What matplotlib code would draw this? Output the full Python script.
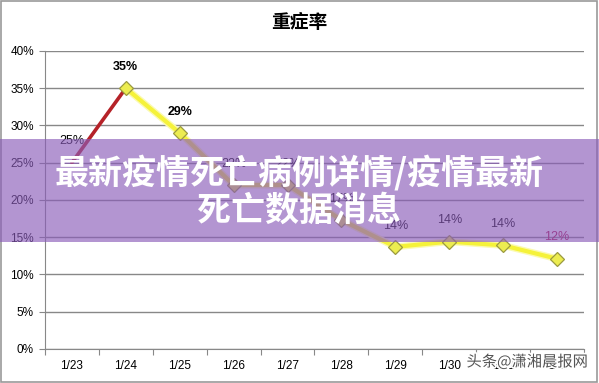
import matplotlib
matplotlib.use("Agg")
import matplotlib.pyplot as plt
import matplotlib.patheffects as pe
from matplotlib.patches import Rectangle

plt.rcParams['font.family'] = ['Liberation Sans', 'Noto Sans CJK SC', 'DejaVu Sans']

dates = ['1/23', '1/24', '1/25', '1/26', '1/27', '1/28', '1/29', '1/30', '1/31', '2/1']
rates = [25, 35, 29, 22, 22, 17.3, 13.7, 14.4, 13.9, 12.1]
y_ticks = [0, 5, 10, 15, 20, 25, 30, 35, 40]

fig = plt.figure(figsize=(5.99, 3.83), dpi=100)
ax = fig.add_axes([0.075, 0.089, 0.9, 0.778])

x = list(range(len(dates)))

# first segment red, the rest yellow
ax.plot(x[:2], rates[:2], color='#b52228', lw=2.6, zorder=3, solid_capstyle='round')
ax.plot(x[1:], rates[1:], color='#f5f23a', lw=3, zorder=3,
        path_effects=[pe.Stroke(linewidth=5, foreground='#fbfab0'), pe.Normal()])
ax.plot(x[1:], rates[1:], ls='none', marker='D', ms=7, mfc='#ecec50',
        mec='#9a9a40', mew=0.9, zorder=4)

label_colors = ['black'] * len(rates)
label_colors[-1] = '#b0104a'
for i, v in enumerate(rates):
    ax.annotate('{:.0f}%'.format(v), (i, v), xytext=(0, 11), textcoords='offset points',
                ha='center', va='bottom', fontsize=9, color=label_colors[i],
                fontweight='bold' if i in (1, 2) else 'normal')

ax.set_xlim(-0.5, len(dates) - 0.5)
ax.set_ylim(0, 40)
ax.set_yticks(y_ticks)
ax.set_yticklabels(['{}%'.format(t) for t in y_ticks], fontsize=8.5)
ax.set_xticks([i - 0.5 for i in range(len(dates) + 1)], minor=False)
ax.set_xticklabels([''] * (len(dates) + 1))
ax.set_xticks(x, minor=True)
ax.set_xticklabels(dates, minor=True, fontsize=8.5)
ax.tick_params(axis='x', which='minor', length=0, pad=8)
ax.tick_params(axis='x', which='major', length=4, color='#888888')
ax.tick_params(axis='y', length=4, color='#888888', pad=4)

ax.grid(axis='y', color='#888888', lw=1)
ax.set_axisbelow(True)
for s in ['top', 'right']:
    ax.spines[s].set_visible(False)
for s in ['left', 'bottom']:
    ax.spines[s].set_color('#888888')

fig.text(0.5, 0.942, '重症率', ha='center', va='center', fontsize=13.5,
         fontweight='bold', family=['Noto Sans CJK SC'])

# chart area border
fig.patches.append(Rectangle((0.002, 0.003), 0.994, 0.994, transform=fig.transFigure,
                             fill=False, edgecolor='#999999', lw=1.2))

# banner overlay
fig.patches.append(Rectangle((0, 0.368), 1, 0.269, transform=fig.transFigure,
                             facecolor='#8a5cb9', alpha=0.65, edgecolor='none', zorder=10))
banner = ['最新疫情死亡病例详情/疫情最新', '死亡数据消息']
fig.text(0.5, 0.549, banner[0], ha='center', va='center', fontsize=24.5, color='white',
         fontweight='bold', family=['Noto Sans CJK SC'], zorder=11)
fig.text(0.5, 0.450, banner[1], ha='center', va='center', fontsize=24.5, color='white',
         fontweight='bold', family=['Noto Sans CJK SC'], zorder=11)

fig.text(0.88, 0.055, '头条@潇湘晨报网', ha='center', va='center', fontsize=11,
         color='#555555', family=['Noto Sans CJK SC'], zorder=11,
         path_effects=[pe.withStroke(linewidth=2.5, foreground='white')])

fig.savefig('out.png', dpi=100)
